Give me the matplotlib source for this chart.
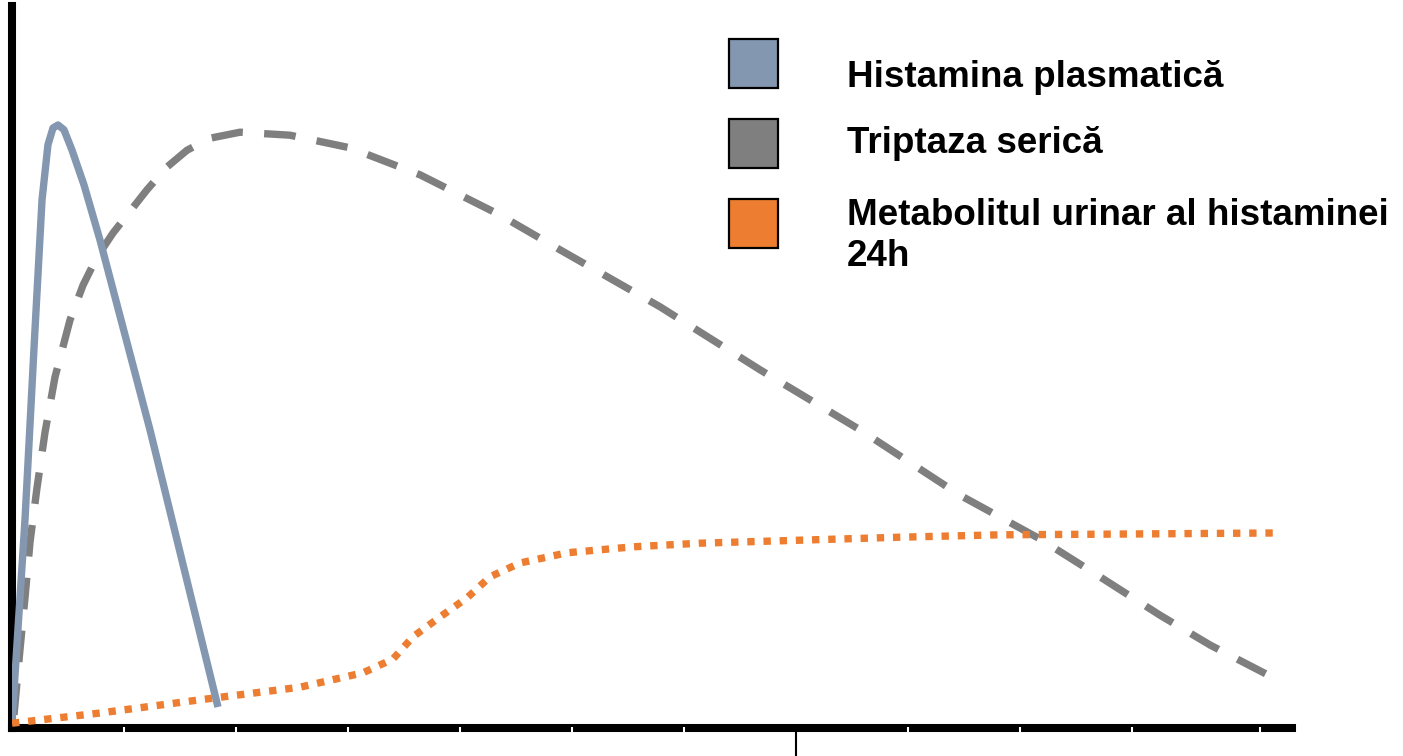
import matplotlib
matplotlib.use("Agg")
import matplotlib.pyplot as plt
from matplotlib.patches import Rectangle

W, H = 1403, 756

# curve data (x in tick units, y in arbitrary units, peak of histamine ~100)
hist_x = [0.0, 0.116, 0.205, 0.268, 0.321, 0.366, 0.411, 0.464, 0.536, 0.643, 0.786, 1.232, 1.839]
hist_y = [1.0, 34.7, 66.3, 88.0, 97.2, 100.0, 100.5, 99.7, 96.3, 90.5, 81.3, 49.7, 3.5]

tript_x = [0.018, 0.071, 0.116, 0.161, 0.223, 0.295, 0.384, 0.518, 0.634, 0.759, 0.902, 1.205, 1.384,
           1.563, 1.768, 2.036, 2.482, 3.018, 3.643, 4.357, 4.893, 5.786, 6.679, 7.571, 8.464, 9.179,
           9.714, 10.25, 10.70, 11.28]
tript_y = [2.2, 13.0, 21.7, 31.0, 40.0, 49.3, 58.5, 68.0, 73.8, 78.5, 82.5, 89.7, 93.5,
           96.3, 98.3, 99.3, 98.8, 96.7, 92.2, 85.5, 79.7, 70.2, 59.7, 49.7, 38.8, 31.5,
           25.2, 18.8, 13.8, 8.2]

metab_x = [0.0, 0.786, 1.679, 2.571, 3.134, 3.402, 3.580, 3.821, 4.063, 4.268, 4.536, 4.955, 5.545,
           6.143, 7.036, 7.929, 8.821, 9.714, 11.26]
metab_y = [0.8, 2.5, 4.7, 6.8, 9.2, 11.5, 15.2, 18.5, 21.7, 25.2, 27.5, 29.2, 30.2,
           30.8, 31.3, 31.8, 32.2, 32.3, 32.5]

ticks = [1, 2, 3, 4, 5, 6, 8, 9, 10, 11.14]
major_tick = 7

labels = ["Histamina plasmatică", "Triptaza serică", "Metabolitul urinar al histaminei\n24h"]
colors = ["#8497B0", "#7F7F7F", "#ED7D31"]

plt.rcParams['font.family'] = ['Liberation Sans', 'DejaVu Sans']

fig = plt.figure(figsize=(W / 100, H / 100), dpi=100)
ax = fig.add_axes([12 / W, (H - 728) / H, 1280 / W, 722 / H])
ax.set_xlim(0, 1280 / 112)
ax.set_ylim(0, 722 / 6)

ax.plot(hist_x, hist_y, color=colors[0], lw=5.3, solid_capstyle='butt',
        solid_joinstyle='round', zorder=3)
ax.plot(tript_x, tript_y, color=colors[1], lw=5.3, linestyle=(0, (4.3, 2.9)),
        dash_capstyle='butt', zorder=2)
ax.plot(metab_x, metab_y, color=colors[2], lw=5.3, linestyle=(0, (1, 1.2)),
        dash_capstyle='butt', zorder=4)

for s in ['top', 'right']:
    ax.spines[s].set_visible(False)
ax.spines['left'].set_linewidth(5.8)
ax.spines['bottom'].set_linewidth(5.8)
ax.set_xticks([])
ax.set_yticks([])

# white notches in the axis bar, and the one long tick below
ax.vlines(ticks, -0.67, 0.15, color='white', lw=1.5, zorder=5, clip_on=False)
ax.vlines([major_tick], -0.67, -4.7, color='black', lw=1.5, zorder=5, clip_on=False)

# legend drawn by hand (baseline = last line of each label)
sq_tops = [39, 119, 199]
baselines = [87, 153, 266]
for top, base, lab, c in zip(sq_tops, baselines, labels, colors):
    fig.add_artist(Rectangle((729 / W, 1 - (top + 49) / H), 49 / W, 49 / H,
                             transform=fig.transFigure, facecolor=c,
                             edgecolor='black', lw=1.6))
    fig.text(847 / W, 1 - base / H, lab, fontsize=26.5, fontweight='bold',
             va='baseline', ha='left', linespacing=1.22)

fig.savefig("out.png", dpi=100)
